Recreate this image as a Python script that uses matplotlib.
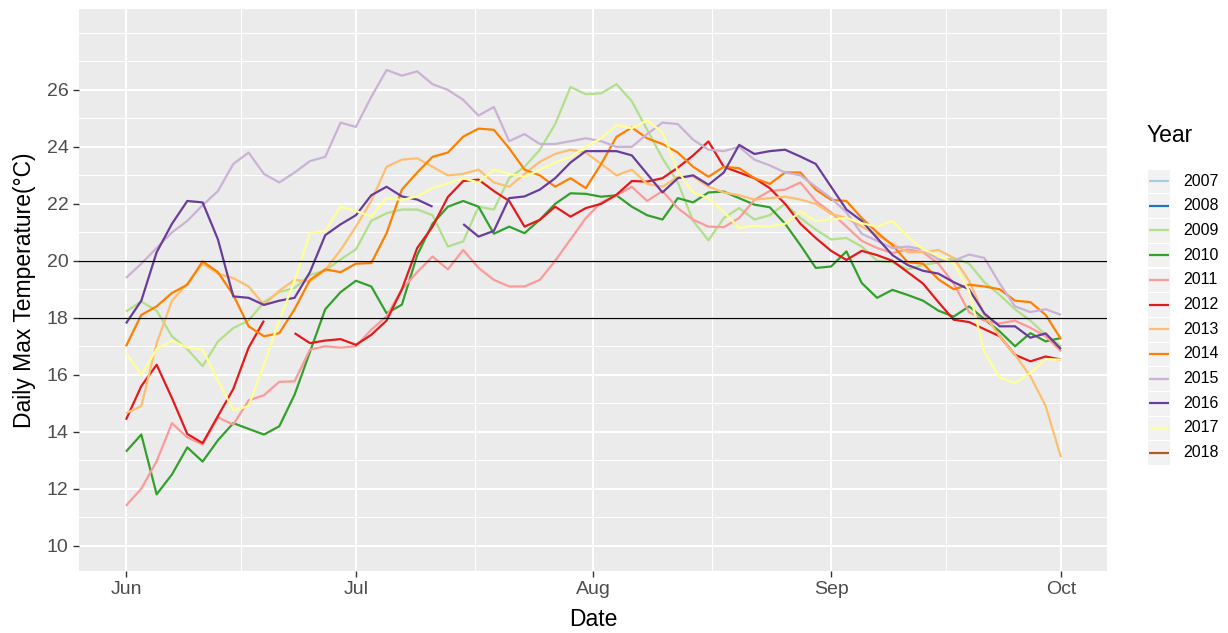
import numpy as np
import pandas as pd
import matplotlib
matplotlib.use("Agg")
import matplotlib.pyplot as plt
import matplotlib.dates as mdates
from matplotlib.patches import Rectangle

plt.rcParams["font.family"] = ["Liberation Sans", "DejaVu Sans"]

nan = np.nan

# Every second day from 1 June to 1 October
dates = pd.date_range("2018-06-01", "2018-10-01", freq="2D")

years = ["2007", "2008", "2009", "2010", "2011", "2012",
         "2013", "2014", "2015", "2016", "2017", "2018"]
colors = ["#A6CEE3", "#1F78B4", "#B2DF8A", "#33A02C", "#FB9A99", "#E31A1C",
          "#FDBF6F", "#FF7F00", "#CAB2D6", "#6A3D9A", "#FFFF99", "#B15928"]

# Daily maximum water temperature (deg C), one value per date above
t2009 = [18.22, 18.57, 18.25, 17.35, 16.9, 16.3, 17.17, 17.64, 17.9, 18.55,
         18.9, 19.05, 19.5, 19.66, 20.05, 20.4, 21.4, 21.67, 21.8, 21.8,
         21.6, 20.5, 20.68, 21.9, 21.8, 22.9, 23.3, 23.9, 24.8, 26.1,
         25.85, 25.88, 26.2, 25.6, 24.6, 23.6, 22.75, 21.4, 20.72, 21.5,
         21.85, 21.45, 21.6, 22.0, 21.5, 21.1, 20.75, 20.8, 20.5, 20.0,
         19.95, 19.7, 19.85, 19.95, 20.1, 19.9, 19.25, 18.8, 18.3, 17.9,
         17.4, 17.0]
t2010 = [13.3, 13.9, 11.8, 12.5, 13.45, 12.95, 13.7, 14.3, 14.1, 13.9,
         14.19, 15.3, 16.8, 18.3, 18.9, 19.3, 19.1, 18.16, 18.46, 20.2,
         21.3, 21.9, 22.1, 21.9, 20.95, 21.2, 20.97, 21.44, 22.0, 22.37,
         22.35, 22.25, 22.3, 21.9, 21.6, 21.45, 22.2, 22.05, 22.4, 22.43,
         22.2, 21.97, 21.88, 21.3, 20.55, 19.75, 19.8, 20.33, 19.22, 18.7,
         18.98, 18.8, 18.6, 18.25, 18.04, 18.4, 17.95, 17.52, 17.0, 17.46,
         17.17, 17.29]
t2011 = [11.4, 12.0, 12.96, 14.3, 13.8, 13.55, 14.5, 14.25, 15.1, 15.28,
         15.75, 15.77, 16.88, 17.0, 16.95, 17.0, 17.58, 18.05, 19.0, 19.6,
         20.15, 19.7, 20.38, 19.75, 19.33, 19.1, 19.1, 19.33, 20.0, 20.75,
         21.5, 22.05, 22.3, 22.6, 22.1, 22.45, 21.85, 21.44, 21.2, 21.18,
         21.5, 22.14, 22.45, 22.5, 22.75, 22.1, 21.7, 21.2, 20.7, 20.45,
         20.27, 20.4, 20.3, 19.9, 19.2, 18.2, 17.9, 17.8, 17.9, 17.65,
         17.35, 16.82]
t2012 = [14.42, 15.6, 16.35, 15.18, 13.92, 13.6, 14.55, 15.5, 16.95, 17.9,
         nan, 17.46, 17.11, 17.2, 17.25, 17.05, 17.4, 17.9, 19.0, 20.45,
         21.2, 22.24, 22.8, 22.85, 22.45, 22.1, 21.2, 21.44, 21.9, 21.55,
         21.85, 22.0, 22.32, 22.8, 22.78, 22.9, 23.27, 23.7, 24.19, 23.3,
         23.1, 22.9, 22.55, 22.0, 21.3, 20.8, 20.35, 20.03, 20.35, 20.2,
         20.0, 19.6, 19.2, 18.55, 17.93, 17.85, 17.6, 17.35, 16.7, 16.47,
         16.64, 16.53]
t2013 = [14.65, 14.9, 17.1, 18.6, 19.2, 19.9, 19.55, 19.39, 19.1, 18.45,
         18.95, 19.33, 19.27, 19.68, 20.38, 21.2, 22.1, 23.3, 23.55, 23.6,
         23.3, 23.0, 23.05, 23.2, 22.75, 22.6, 23.05, 23.48, 23.75, 23.9,
         23.8, 23.4, 23.0, 23.2, 22.7, 22.6, 22.95, 22.96, 22.6, 22.4,
         22.3, 22.15, 22.2, 22.25, 22.15, 22.0, 21.65, 21.5, 21.2, 20.9,
         20.6, 20.3, 20.3, 20.38, 20.1, 19.3, 18.1, 17.35, 16.7, 15.95,
         14.9, 13.1]
t2014 = [17.0, 18.1, 18.4, 18.87, 19.16, 19.98, 19.6, 18.8, 17.7, 17.35,
         17.46, 18.3, 19.33, 19.7, 19.6, 19.9, 19.92, 20.97, 22.5, 23.1,
         23.65, 23.8, 24.36, 24.64, 24.6, 23.95, 23.2, 23.0, 22.6, 22.9,
         22.55, 23.4, 24.35, 24.68, 24.3, 24.1, 23.8, 23.3, 22.95, 23.3,
         23.25, 22.9, 22.7, 23.1, 23.1, 22.5, 22.14, 22.1, 21.5, 21.0,
         20.55, 19.95, 19.9, 19.35, 19.0, 19.16, 19.1, 19.0, 18.6, 18.55,
         18.1, 17.25]
t2015 = [19.4, 19.9, 20.45, 21.0, 21.4, 21.95, 22.45, 23.4, 23.8, 23.05,
         22.75, 23.1, 23.5, 23.65, 24.85, 24.7, 25.75, 26.7, 26.5, 26.65,
         26.2, 26.0, 25.65, 25.1, 25.4, 24.2, 24.45, 24.1, 24.1, 24.2,
         24.3, 24.2, 24.0, 24.0, 24.45, 24.85, 24.8, 24.25, 23.9, 23.85,
         24.0, 23.55, 23.35, 23.1, 23.0, 22.6, 22.2, 21.7, 20.95, 20.7,
         20.45, 20.5, 20.4, 20.05, 20.0, 20.22, 20.1, 19.2, 18.4, 18.2,
         18.3, 18.1]
t2016 = [17.8, 18.6, 20.3, 21.3, 22.1, 22.05, 20.75, 18.75, 18.7, 18.45,
         18.6, 18.7, 19.6, 20.9, 21.28, 21.6, 22.3, 22.6, 22.26, 22.15,
         21.9, nan, 21.29, 20.85, 21.05, 22.2, 22.26, 22.5, 22.9, 23.45,
         23.85, 23.85, 23.85, 23.7, 23.05, 22.4, 22.9, 23.0, 22.67, 23.1,
         24.07, 23.75, 23.85, 23.9, 23.66, 23.4, 22.6, 21.8, 21.4, 20.8,
         20.2, 19.85, 19.65, 19.55, 19.25, 19.0, 18.15, 17.7, 17.7, 17.3,
         17.45, 16.9]
t2017 = [16.76, 16.0, 16.9, 17.2, 16.95, 16.88, 15.8, 14.75, 14.9, 16.35,
         17.9, 19.3, 20.97, 21.05, 21.9, 21.75, 21.55, 22.2, 22.14, 22.26,
         22.55, 22.72, 22.9, 22.75, 23.2, 23.05, 22.95, 23.2, 23.45, 23.65,
         24.0, 24.3, 24.77, 24.65, 24.93, 24.5, 23.15, 22.4, 22.2, 21.72,
         21.15, 21.23, 21.2, 21.3, 21.73, 21.4, 21.45, 21.5, 21.32, 21.2,
         21.4, 20.85, 20.4, 20.18, 19.9, 18.95, 16.8, 15.9, 15.71, 16.06,
         16.55, 16.53]

series = {"2009": t2009, "2010": t2010, "2011": t2011, "2012": t2012,
          "2013": t2013, "2014": t2014, "2015": t2015, "2016": t2016,
          "2017": t2017}

month_ticks = pd.to_datetime(["2018-06-01", "2018-07-01", "2018-08-01",
                              "2018-09-01", "2018-10-01"])
month_labels = ["Jun", "Jul", "Aug", "Sep", "Oct"]
y_ticks = [10, 12, 14, 16, 18, 20, 22, 24, 26]
thresholds = [18, 20]

W, H = 1228, 633
fig = plt.figure(figsize=(W / 100, H / 100), dpi=100)
fig.patch.set_facecolor("white")

# panel in pixel coordinates: left 79, right 1107, top 9, bottom 571
ax = fig.add_axes([79 / W, 1 - 571 / H, (1107 - 79) / W, (571 - 9) / H])
ax.set_facecolor("#EBEBEB")
for s in ax.spines.values():
    s.set_visible(False)

color_of = dict(zip(years, colors))
for yr in years:
    if yr in series:
        ax.plot(dates, series[yr], color=color_of[yr], lw=1.6,
                solid_joinstyle="round", solid_capstyle="butt", zorder=3)

for t in thresholds:
    ax.axhline(t, color="black", lw=0.9, zorder=4)

start = mdates.date2num(pd.Timestamp("2018-06-01"))
ax.set_xlim(start - 6.13, start + 128.0)
ax.set_ylim(9.11, 28.84)

ax.set_xticks(month_ticks)
ax.set_xticklabels(month_labels)
mt = mdates.date2num(month_ticks)
ax.set_xticks((mt[:-1] + mt[1:]) / 2, minor=True)
ax.set_yticks(y_ticks)
ax.set_yticks(list(range(11, 28, 2)) + [28], minor=True)

ax.grid(which="major", color="white", lw=1.45, zorder=0)
ax.grid(which="minor", color="white", lw=0.75, zorder=0)
ax.set_axisbelow(True)

ax.tick_params(which="major", length=4, width=1.0, color="#333333",
               labelsize=14, labelcolor="#4D4D4D", pad=3.5)
ax.tick_params(which="minor", length=0)

fig.text(25 / W, 1 - 290 / H, "Daily Max Temperature(°C)", rotation=90,
         ha="center", va="center", fontsize=16.5, color="black")
fig.text(593 / W, 1 - 619 / H, "Date", ha="center", va="center",
         fontsize=16.5, color="black")

# legend drawn in pixel space
lax = fig.add_axes([0, 0, 1, 1], zorder=5)
lax.set_xlim(0, W)
lax.set_ylim(H, 0)
lax.axis("off")
lax.patch.set_alpha(0)
lax.text(1147, 136, "Year", ha="left", va="center", fontsize=16.5)
for i, (yr, col) in enumerate(zip(years, colors)):
    yc = 181 + i * 24.7
    lax.add_patch(Rectangle((1147, yc - 12.3), 23, 24.6, facecolor="#F2F2F2",
                            edgecolor="white", lw=0.8))
    lax.plot([1148.5, 1168.5], [yc, yc], color=col, lw=1.6,
             solid_capstyle="butt")
    lax.text(1183, yc, yr, ha="left", va="center", fontsize=11.5)

fig.savefig("out.png", dpi=100)
